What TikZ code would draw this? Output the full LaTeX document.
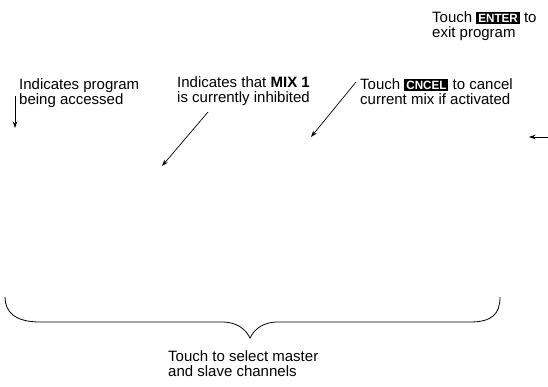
\documentclass[tikz,border=0pt]{standalone}
\usepackage{fontspec}
\setmainfont{Liberation Sans}
\usepackage{graphicx}
\usetikzlibrary{arrows.meta}
\newcommand\keycap[1]{{\setlength\fboxsep{2pt}\colorbox{black}{\textcolor{white}{\bfseries\fontsize{12}{12}\selectfont\scalebox{0.97}[1]{#1}}}}}
\tikzset{
  lbl/.style={anchor=north west, inner sep=0pt, align=left, font=\fontsize{15}{15}\selectfont},
  callout/.style={line width=0.7pt, -{Stealth[length=6.5pt,width=4.5pt]}},
  bracepath/.style={line width=0.8pt}
}
\begin{document}
\begin{tikzpicture}[x=1pt,y=-1pt]
\useasboundingbox (0,0) rectangle (548,386);
\node[lbl] (enter) at (432,11) {Touch \keycap{ENTER} to\\exit program};
\node[lbl] (prog) at (19,78) {Indicates program\\being accessed};
\node[lbl] (mix) at (177,76) {Indicates that \textbf{MIX 1}\\is currently inhibited};
\node[lbl] (cancel) at (360,78) {Touch \keycap{CNCEL} to cancel\\current mix if activated};
\node[lbl] (select) at (168,350) {Touch to select master\\and slave channels};
\coordinate (p1) at (15,96);
\coordinate (p2) at (15,128);
\coordinate (m1) at (208,112);
\coordinate (m2) at (162,166);
\coordinate (c1) at (356,82);
\coordinate (c2) at (311,137);
\coordinate (r1) at (548,137);
\coordinate (r2) at (529,137);
\draw[callout] (p1) -- (p2);
\draw[callout] (m1) -- (m2);
\draw[callout] (c1) -- (c2);
\draw[callout] (r1) -- (r2);
\coordinate (bl) at (5,297);
\coordinate (bt) at (250,338);
\coordinate (br) at (500,297);
\draw[bracepath] (bl) .. controls (5,312) and (15,322) .. (40,322)
  -- (222,322) .. controls (238,322) and (246,330) .. (bt)
  .. controls (254,330) and (262,322) .. (278,322)
  -- (470,322) .. controls (492,322) and (500,314) .. (br);
\end{tikzpicture}
\end{document}
